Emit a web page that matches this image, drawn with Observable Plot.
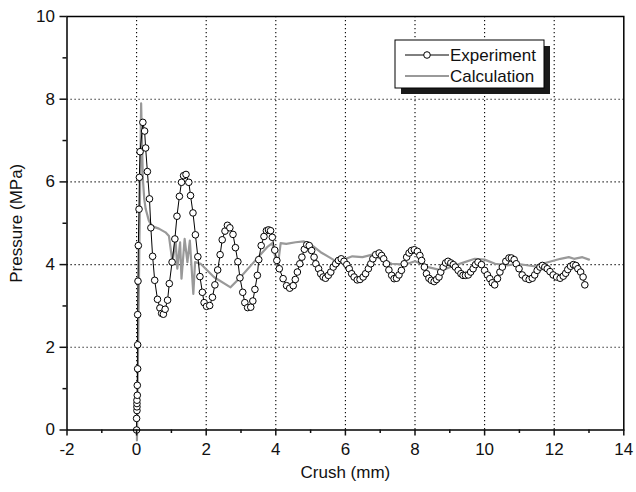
<!DOCTYPE html>
<html><head><meta charset="utf-8">
<script src="https://cdn.jsdelivr.net/npm/d3@7"></script>
<script src="https://cdn.jsdelivr.net/npm/@observablehq/plot@0.6"></script>
<style>
body{margin:0;background:#fff;}
#wrap{position:relative;width:636px;height:492px;font-family:"Liberation Sans",Arial,sans-serif;}
#wrap svg text{font-size:17px;}
#legend{position:absolute;left:0;top:0;pointer-events:none;}
</style></head><body><div id="wrap"></div>
<script>
// Experiment: crush (mm) and pressure (MPa)
const expX = [0.00,0.00,0.01,0.01,0.01,0.01,0.02,0.02,0.03,0.03,0.03,0.04,0.05,0.07,0.08,0.10,0.18,0.23,0.26,0.31,0.37,0.41,0.46,0.52,0.60,0.67,0.72,0.77,0.82,0.89,0.94,1.02,1.10,1.16,1.23,1.29,1.35,1.42,1.50,1.55,1.62,1.69,1.76,1.82,1.89,1.94,2.01,2.10,2.18,2.25,2.33,2.40,2.46,2.54,2.61,2.68,2.77,2.84,2.91,2.97,3.05,3.11,3.19,3.28,3.34,3.40,3.47,3.51,3.58,3.66,3.73,3.79,3.85,3.90,3.97,4.03,4.10,4.21,4.31,4.40,4.50,4.56,4.62,4.69,4.75,4.82,4.89,4.96,5.03,5.10,5.15,5.23,5.29,5.36,5.43,5.51,5.58,5.65,5.72,5.80,5.88,5.96,6.04,6.11,6.18,6.25,6.34,6.42,6.51,6.58,6.66,6.73,6.79,6.87,6.97,7.04,7.10,7.18,7.25,7.33,7.40,7.47,7.54,7.61,7.69,7.76,7.83,7.90,7.98,8.07,8.14,8.19,8.27,8.33,8.40,8.47,8.55,8.62,8.69,8.74,8.81,8.88,8.95,9.03,9.10,9.16,9.24,9.32,9.38,9.45,9.53,9.60,9.67,9.74,9.81,9.91,10.00,10.08,10.15,10.22,10.29,10.37,10.44,10.51,10.61,10.70,10.77,10.85,10.91,10.99,11.08,11.18,11.28,11.37,11.44,11.51,11.59,11.66,11.73,11.80,11.88,11.97,12.07,12.17,12.26,12.33,12.39,12.47,12.55,12.62,12.68,12.76,12.83,12.88];
const expP = [0.00,0.28,0.47,0.56,0.64,0.72,0.84,1.08,1.48,2.06,2.79,3.60,4.46,5.34,6.11,6.73,7.44,7.23,6.82,6.25,5.59,4.89,4.20,3.62,3.16,2.95,2.82,2.80,2.92,3.14,3.54,4.06,4.62,5.17,5.65,5.99,6.15,6.18,5.99,5.67,5.25,4.72,4.19,3.71,3.33,3.08,2.99,3.01,3.21,3.51,3.87,4.24,4.60,4.81,4.95,4.89,4.73,4.41,4.07,3.68,3.33,3.08,2.96,2.97,3.12,3.40,3.74,4.12,4.46,4.68,4.82,4.84,4.82,4.66,4.35,4.10,3.90,3.66,3.49,3.43,3.49,3.64,3.82,4.02,4.18,4.37,4.48,4.46,4.34,4.18,4.02,3.90,3.78,3.70,3.67,3.74,3.82,3.94,4.02,4.10,4.14,4.08,4.00,3.90,3.78,3.70,3.63,3.64,3.70,3.78,3.90,4.02,4.14,4.24,4.28,4.22,4.14,4.02,3.87,3.74,3.66,3.67,3.75,3.86,4.02,4.18,4.28,4.34,4.36,4.32,4.22,4.10,3.94,3.78,3.67,3.62,3.59,3.64,3.70,3.82,3.94,4.04,4.08,4.04,4.00,3.94,3.86,3.78,3.74,3.74,3.75,3.82,3.90,4.00,4.06,4.00,3.86,3.75,3.66,3.56,3.51,3.66,3.82,3.94,4.08,4.16,4.16,4.12,4.02,3.90,3.75,3.67,3.64,3.67,3.75,3.86,3.94,3.98,3.94,3.90,3.83,3.75,3.70,3.67,3.72,3.79,3.88,3.96,4.00,3.98,3.90,3.82,3.70,3.51];
// Calculation
const calcX = [0.01,0.13,0.18,0.22,0.26,0.35,0.44,0.64,0.83,0.93,1.03,1.12,1.17,1.25,1.29,1.38,1.46,1.53,1.63,1.68,1.84,2.22,2.70,2.99,3.37,3.62,3.75,3.90,4.05,4.14,4.30,4.57,4.81,5.05,5.29,5.53,5.77,6.01,6.20,6.49,6.77,7.01,7.33,7.71,8.00,8.38,8.76,9.14,9.43,9.72,10.00,10.30,10.65,10.92,11.42,11.66,12.00,12.18,12.42,12.57,12.81,13.00];
const calcP = [-0.25,7.90,6.07,5.59,5.35,5.07,4.93,4.87,4.78,4.69,4.06,4.58,3.90,4.54,3.66,4.62,4.06,4.58,3.29,4.06,4.02,3.70,3.45,3.70,4.06,4.30,4.42,4.52,3.92,4.52,4.50,4.54,4.56,4.46,4.30,4.18,4.06,4.14,4.20,4.18,4.24,4.14,4.02,4.00,4.08,3.94,3.86,3.98,4.06,4.14,4.12,4.02,3.98,4.02,3.96,4.02,4.10,4.14,4.18,4.14,4.18,4.12];

const xMajor = [-2,0,2,4,6,8,10,12,14];
const xMinor = [-1,1,3,5,7,9,11,13];
const yMajor = [0,2,4,6,8,10];
const yMinor = [1,3,5,7,9];
const seriesNames = ["Experiment","Calculation"];
const xTitle = "Crush (mm)";
const yTitle = "Pressure (MPa)";

const exp = expX.map((x,i)=>({x, p: expP[i]}));
const calc = calcX.map((x,i)=>({x, p: calcP[i]}));

const font = "Liberation Sans, Arial, sans-serif";
const fmt = d => String(d);
const chart = Plot.plot({
  width: 636, height: 492,
  marginLeft: 66.5, marginRight: 12.7, marginTop: 16, marginBottom: 62.5,
  x: {domain: [-2, 14]},
  y: {domain: [0, 10]},
  style: {fontFamily: font, fontSize: "17px", color: "#111", background: "white"},
  marks: [
    Plot.gridX(xMajor.filter(v => v > -2 && v < 14), {stroke: "#000", strokeOpacity: 1, strokeWidth: 1.1, strokeDasharray: "1.2,2.8"}),
    Plot.gridY(yMajor.filter(v => v > 0 && v < 10), {stroke: "#000", strokeOpacity: 1, strokeWidth: 1.1, strokeDasharray: "1.2,2.8"}),
    Plot.line(calc, {x: "x", y: "p", stroke: "#999", strokeWidth: 2.2}),
    Plot.line(exp, {x: "x", y: "p", stroke: "#000", strokeWidth: 1}),
    Plot.dot(exp, {x: "x", y: "p", r: 3.3, fill: "white", stroke: "#000", strokeWidth: 1}),
    Plot.frame({stroke: "#000", strokeWidth: 1.5}),
    Plot.axisX(xMajor, {tickSize: 6, tickPadding: 7, strokeWidth: 1.5, fontSize: 17, tickFormat: fmt, label: xTitle, labelAnchor: "center", labelArrow: "none", labelOffset: 48}),
    Plot.axisX(xMinor, {tickSize: 3.5, strokeWidth: 1.5, text: null, label: null}),
    Plot.axisY(yMajor, {tickSize: 7, tickPadding: 5, strokeWidth: 1.5, fontSize: 17, tickFormat: fmt, label: yTitle, labelAnchor: "center", labelArrow: "none", labelOffset: 57}),
    Plot.axisY(yMinor, {tickSize: 4, strokeWidth: 1.5, text: null, label: null})
  ]
});
const wrap = document.getElementById("wrap");
wrap.appendChild(chart);

// Legend overlay
const lg = d3.select(wrap).append("svg").attr("id", "legend").attr("width", 636).attr("height", 492);
const bx = 395, by = 40, bw = 149, bh = 48;
lg.append("rect").attr("x", bx + 6).attr("y", by + 6).attr("width", bw).attr("height", bh).attr("fill", "#1a1a1a");
lg.append("rect").attr("x", bx).attr("y", by).attr("width", bw).attr("height", bh).attr("fill", "white").attr("stroke", "#000").attr("stroke-width", 1);
const rows = [
  {name: seriesNames[0], color: "#000", w: 1, marker: true, y: by + 15},
  {name: seriesNames[1], color: "#999", w: 2.2, marker: false, y: by + 36}
];
rows.forEach(r => {
  lg.append("line").attr("x1", bx + 10).attr("x2", bx + 54).attr("y1", r.y).attr("y2", r.y).attr("stroke", r.color).attr("stroke-width", r.w);
  if (r.marker) lg.append("circle").attr("cx", bx + 32).attr("cy", r.y).attr("r", 3.3).attr("fill", "white").attr("stroke", "#000");
  lg.append("text").attr("x", bx + 55).attr("y", r.y).attr("dy", "0.36em").attr("font-family", font).attr("fill", "#111").text(r.name);
});
</script></body></html>
